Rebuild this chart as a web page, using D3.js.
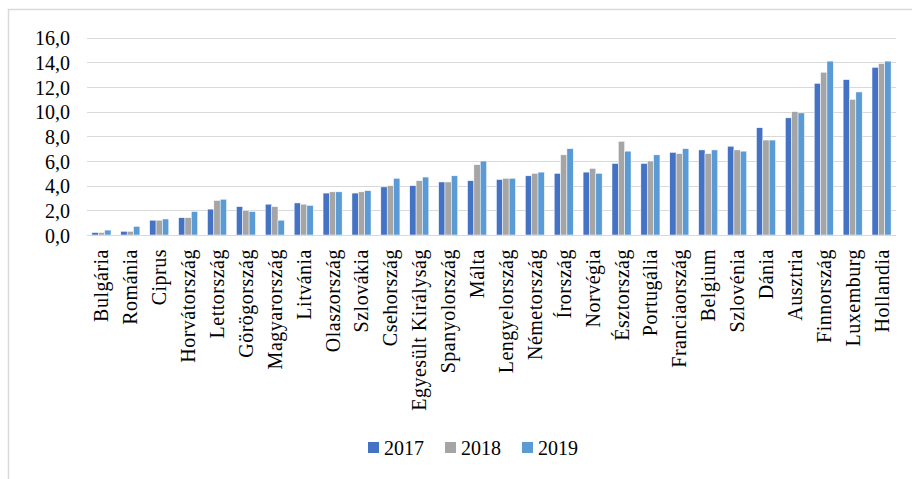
<!DOCTYPE html>
<meta charset="utf-8">
<head>
    <script src="https://d3js.org/d3.v7.min.js"></script>
    <style>
    body { margin: 0; background: white; }
    svg { display: block; }
    .tick text { font-family: "Liberation Serif", "Times New Roman", serif; }
    </style>
</head>
<body>
    <svg id="svgid" width="912" height="479"></svg>
    <script>
        // countries (x axis)
        var countries = ["Bulgária", "Románia", "Ciprus", "Horvátország", "Lettország",
            "Görögország", "Magyarország", "Litvánia", "Olaszország", "Szlovákia",
            "Csehország", "Egyesült Királyság", "Spanyolország", "Málta", "Lengyelország",
            "Németország", "Írország", "Norvégia", "Észtország", "Portugália",
            "Franciaország", "Belgium", "Szlovénia", "Dánia", "Ausztria",
            "Finnország", "Luxemburg", "Hollandia"];

        var years = ["2017", "2018", "2019"];

        var v2017 = [0.2, 0.3, 1.2, 1.4, 2.1, 2.3, 2.5, 2.6, 3.4, 3.4,
            3.9, 4.0, 4.3, 4.4, 4.5, 4.8, 5.0, 5.1, 5.8, 5.8,
            6.7, 6.9, 7.2, 8.7, 9.5, 12.3, 12.6, 13.6];
        var v2018 = [0.2, 0.3, 1.2, 1.4, 2.8, 2.0, 2.3, 2.5, 3.5, 3.5,
            4.0, 4.4, 4.3, 5.7, 4.6, 5.0, 6.5, 5.4, 7.6, 6.0,
            6.6, 6.6, 6.9, 7.7, 10.0, 13.2, 11.0, 13.9];
        var v2019 = [0.4, 0.7, 1.3, 1.9, 2.9, 1.9, 1.2, 2.4, 3.5, 3.6,
            4.6, 4.7, 4.8, 6.0, 4.6, 5.1, 7.0, 5.0, 6.8, 6.5,
            7.0, 6.9, 6.8, 7.7, 9.9, 14.1, 11.6, 14.1];

        var yTicks = [0, 2, 4, 6, 8, 10, 12, 14, 16];
        var colors = ["#4472C4", "#A5A5A5", "#5B9BD5"];

        var series = [v2017, v2018, v2019];

        var svg = d3.select("#svgid");

        // outer frame (only left + top edges are visible)
        svg.append("path")
            .attr("d", "M8.5,479 V9.5 H912")
            .style("fill", "none")
            .style("stroke", "#d9d9d9")
            .style("stroke-width", 1.5);

        var plotL = 87, plotR = 896, plotT = 37.7, plotB = 235;

        var x = d3.scaleBand().domain(countries).range([plotL, plotR]).paddingInner(0.34).paddingOuter(0.17);
        var xs = d3.scaleBand().domain(years).range([0, x.bandwidth()]);
        var y = d3.scaleLinear().domain([0, 16]).range([plotB, plotT]);

        // gridlines
        svg.append("g").selectAll("line")
            .data(yTicks.slice(1))
            .join("line")
            .attr("x1", plotL).attr("x2", plotR)
            .attr("y1", d => Math.round(y(d)) + 0.5).attr("y2", d => Math.round(y(d)) + 0.5)
            .style("stroke", "#d9d9d9")
            .style("stroke-width", 1.2);

        // y axis labels
        var yAxis = svg.append("g")
            .attr("transform", "translate(70,0)")
            .call(d3.axisLeft(y).tickValues(yTicks).tickSize(0).tickPadding(0)
                .tickFormat(d => d3.format(".1f")(d).replace(".", ",")));
        yAxis.select(".domain").remove();
        yAxis.selectAll("text").style("font-size", "20px").style("fill", "#000").attr("dy", "0.35em");

        // bars
        var groups = svg.append("g").selectAll("g")
            .data(countries)
            .join("g")
            .attr("transform", d => "translate(" + x(d) + ",0)");

        groups.selectAll("rect")
            .data((d, i) => years.map((yr, k) => ({ yr: yr, v: series[k][i], k: k })))
            .join("rect")
            .attr("x", d => xs(d.yr))
            .attr("width", xs.bandwidth())
            .attr("y", d => y(d.v))
            .attr("height", d => y(0) - y(d.v))
            .style("fill", d => colors[d.k])
            .style("stroke", "white")
            .style("stroke-width", 0.5);

        // x axis
        var xAxis = svg.append("g")
            .attr("transform", "translate(0," + plotB + ")")
            .call(d3.axisBottom(x).tickSize(0).tickSizeOuter(0));
        xAxis.select(".domain").attr("d", "M" + plotL + ",0.5H" + plotR).style("stroke", "#d9d9d9").style("stroke-width", 1.2);
        xAxis.selectAll("text")
            .style("font-size", "20px")
            .style("letter-spacing", "0.5px")
            .style("fill", "#000")
            .style("text-anchor", "end")
            .attr("transform", "rotate(-90)")
            .attr("x", -14)
            .attr("y", 0)
            .attr("dy", "0.35em");

        // legend
        var legend = svg.append("g").selectAll("g")
            .data(years)
            .join("g")
            .attr("transform", (d, i) => "translate(" + (368 + i * 77) + ",442)");
        legend.append("rect")
            .attr("width", 11).attr("height", 11)
            .style("fill", (d, i) => colors[i]);
        legend.append("text")
            .attr("x", 16).attr("y", 13)
            .style("font-family", "'Liberation Serif', 'Times New Roman', serif")
            .style("font-size", "20px")
            .text(d => d);
    </script>
</body>
